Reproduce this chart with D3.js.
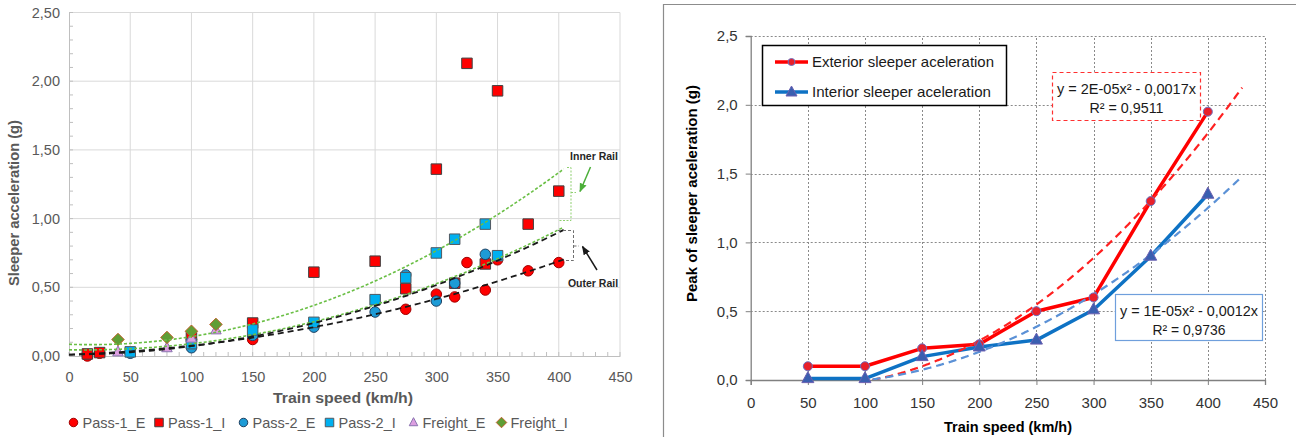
<!DOCTYPE html>
<html><head><meta charset="utf-8">
<script src="https://cdn.jsdelivr.net/npm/d3@7"></script>
<style>body{margin:0;background:#fff;} svg{display:block;}</style>
</head><body>
<svg id="c" width="1296" height="437"></svg>
<script>
// ---------------- LEFT CHART DATA ----------------
const pass1E_speed = [15, 25, 100, 150, 275, 300, 315, 325, 340, 350, 375, 400];
const pass1E_acc   = [0.00, 0.02, 0.12, 0.12, 0.34, 0.45, 0.43, 0.68, 0.48, 0.70, 0.62, 0.68];
const pass1I_speed = [15, 25, 100, 150, 200, 250, 275, 300, 315, 325, 340, 350, 375, 400];
const pass1I_acc   = [0.015, 0.025, 0.14, 0.24, 0.61, 0.69, 0.49, 1.36, 0.53, 2.13, 0.67, 1.93, 0.96, 1.20];
const pass2E_speed = [50, 100, 150, 200, 250, 275, 300, 315, 340];
const pass2E_acc   = [0.02, 0.06, 0.15, 0.21, 0.32, 0.59, 0.40, 0.53, 0.74];
const pass2I_speed = [50, 100, 150, 200, 250, 275, 300, 315, 340, 350];
const pass2I_acc   = [0.03, 0.09, 0.19, 0.245, 0.41, 0.57, 0.75, 0.85, 0.96, 0.73];
const freightE_speed = [40, 80, 100, 120];
const freightE_acc   = [0.03, 0.06, 0.13, 0.19];
const freightI_speed = [40, 80, 100, 120];
const freightI_acc   = [0.12, 0.135, 0.18, 0.23];
const leftSeriesNames = ["Pass-1_E", "Pass-1_I", "Pass-2_E", "Pass-2_I", "Freight_E", "Freight_I"];
// fitted polynomial trend lines (a, b, c) for y = a x^2 + b x + c
const trendInnerHigh = [8.54e-6, -0.000292, 0.085];
const trendInnerLow  = [5.81e-6, -0.0001375, 0.045];
const trendOuterHigh = [5.375e-6, 0.000075, 0.01];
const trendOuterLow  = [3.5e-6, 0.0003, 0.01];
const trendRangeLeft = [0, 405];
const xTicksL = [0, 50, 100, 150, 200, 250, 300, 350, 400, 450];
const yTicksL = [0, 0.5, 1.0, 1.5, 2.0, 2.5];
const yTickLabelsL = ["0,00", "0,50", "1,00", "1,50", "2,00", "2,50"];

// ---------------- RIGHT CHART DATA ----------------
const speedsR   = [50, 100, 150, 200, 250, 300, 350, 400];
const exterior  = [0.10, 0.10, 0.23, 0.26, 0.50, 0.60, 1.30, 1.95];
const interior  = [0.01, 0.01, 0.17, 0.24, 0.29, 0.51, 0.90, 1.35];
const rightSeriesNames = ["Exterior sleeper aceleration", "Interior sleeper aceleration"];
const fitExterior = [1.527e-5, -0.001624];
const fitInterior = [1.052e-5, -0.001082];
const trendRangeRight = [50, 430];
const eqExterior = ["y = 2E-05x² - 0,0017x", "R² = 0,9511"];
const eqInterior = ["y = 1E-05x² - 0,0012x", "R² = 0,9736"];
const xTicksR = [0, 50, 100, 150, 200, 250, 300, 350, 400, 450];
const yTicksR = [0, 0.5, 1.0, 1.5, 2.0, 2.5];
const yTickLabelsR = ["0,0", "0,5", "1,0", "1,5", "2,0", "2,5"];

const svg = d3.select("#c");
const FONT = "'Liberation Sans', Arial, sans-serif";

// ================= LEFT CHART =================
const xL = d3.scaleLinear().domain([0, 450]).range([69, 620]);
const yL = d3.scaleLinear().domain([0, 2.5]).range([356, 12.5]);
const gL = svg.append("g");

gL.append("g").selectAll("line").data(yTicksL.filter(d => d > 0)).join("line")
  .attr("x1", xL(0)).attr("x2", xL(450)).attr("y1", d => yL(d)).attr("y2", d => yL(d))
  .attr("stroke", "#d9d9d9").attr("stroke-width", 1);
gL.append("g").selectAll("line").data(xTicksL.filter(d => d > 0)).join("line")
  .attr("x1", d => xL(d)).attr("x2", d => xL(d)).attr("y1", yL(0)).attr("y2", yL(2.5))
  .attr("stroke", "#d9d9d9").attr("stroke-width", 1);
gL.append("g").selectAll("line").data(d3.range(0, 2.51, 0.1)).join("line")
  .attr("x1", xL(0)).attr("x2", xL(0) + 4).attr("y1", d => yL(d)).attr("y2", d => yL(d))
  .attr("stroke", "#bfbfbf");
gL.append("g").selectAll("line").data(d3.range(0, 451, 10)).join("line")
  .attr("x1", d => xL(d)).attr("x2", d => xL(d)).attr("y1", yL(0)).attr("y2", yL(0) - 4)
  .attr("stroke", "#bfbfbf");
const axLy = d3.axisLeft(yL).tickValues(yTicksL).tickFormat((d, i) => yTickLabelsL[i]).tickSize(0).tickPadding(9);
const axLx = d3.axisBottom(xL).tickValues(xTicksL).tickFormat(d3.format("d")).tickSize(0).tickPadding(16);
const gaLy = gL.append("g").attr("transform", `translate(${xL(0)},0)`).call(axLy);
const gaLx = gL.append("g").attr("transform", `translate(0,${yL(0)})`).call(axLx);
[gaLy, gaLx].forEach(g => {
  g.select(".domain").attr("stroke", "#bfbfbf");
  g.selectAll("text").attr("font-family", FONT).attr("font-size", 14.5).attr("fill", "#595959");
});

function markerPath(type, s) {
  if (type === "circle") return d3.symbol(d3.symbolCircle, Math.PI * s * s / 4)();
  if (type === "square") return `M${-s/2},${-s/2}h${s}v${s}h${-s}Z`;
  if (type === "triangle") { const h = s * 0.95; return `M0,${-h*0.6}L${s/2},${h*0.4}L${-s/2},${h*0.4}Z`; }
  if (type === "diamond") { const r = s / 2 + 1; return `M0,${-r}L${r},0L0,${r}L${-r},0Z`; }
}
const leftStyles = [
  {type: "circle", fill: "#ff0000", stroke: "#a00000"},
  {type: "square", fill: "#ff0000", stroke: "#404040"},
  {type: "circle", fill: "#1d9bd6", stroke: "#1f4060"},
  {type: "square", fill: "#00b0f0", stroke: "#505860"},
  {type: "triangle", fill: "#dc9ee0", stroke: "#8a74b0"},
  {type: "diamond", fill: "#5f9e35", stroke: "#c0602a"}
];
const leftData = [
  [pass1E_speed, pass1E_acc], [pass1I_speed, pass1I_acc], [pass2E_speed, pass2E_acc],
  [pass2I_speed, pass2I_acc], [freightE_speed, freightE_acc], [freightI_speed, freightI_acc]
];
leftData.forEach(([xs, ys], k) => {
  const st = leftStyles[k];
  gL.append("g").selectAll("path").data(xs.map((x, i) => [x, ys[i]])).join("path")
    .attr("d", markerPath(st.type, 10.5))
    .attr("transform", d => `translate(${xL(d[0])},${yL(d[1])})`)
    .attr("fill", st.fill).attr("stroke", st.stroke).attr("stroke-width", 1);
});

function polyPts(c, r, step) {
  return d3.range(r[0], r[1] + 0.001, step).map(x => [x, c[0]*x*x + c[1]*x + (c[2] || 0)]);
}
const lineL = d3.line().x(d => xL(d[0])).y(d => yL(d[1]));
[[trendInnerHigh, "#6abf45", "3,2", 1.6], [trendInnerLow, "#6abf45", "3,2", 1.6],
 [trendOuterHigh, "#1a1a1a", "6,4", 1.8], [trendOuterLow, "#1a1a1a", "6,4", 1.8]].forEach(([c, col, dash, w]) => {
  gL.append("path").datum(polyPts(c, trendRangeLeft, 2)).attr("d", lineL)
    .attr("fill", "none").attr("stroke", col).attr("stroke-dasharray", dash).attr("stroke-width", w);
});

const brk = gL.append("g");
brk.append("path").attr("d", "M567,167.5H571V220.5H558M571,192.5H576")
  .attr("fill", "none").attr("stroke", "#8fcf70").attr("stroke-width", 1).attr("stroke-dasharray", "2,1.5");
brk.append("path").attr("d", "M558,230.5H573.5V260.5H565M573.5,246H579")
  .attr("fill", "none").attr("stroke", "#707070").attr("stroke-width", 1).attr("stroke-dasharray", "3,2");
svg.append("defs").html(`
  <marker id="ahG" viewBox="0 0 10 10" refX="9" refY="5" markerWidth="6" markerHeight="6" orient="auto"><path d="M0,1L10,5L0,9Z" fill="#4caf3a"/></marker>
  <marker id="ahK" viewBox="0 0 10 10" refX="9" refY="5" markerWidth="6" markerHeight="6" orient="auto"><path d="M0,1L10,5L0,9Z" fill="#1a1a1a"/></marker>
  <clipPath id="clipR"><rect x="750" y="36" width="515" height="344"/></clipPath>`);
brk.append("line").attr("x1", 590.5).attr("y1", 167).attr("x2", 580).attr("y2", 191.5)
  .attr("stroke", "#4caf3a").attr("stroke-width", 1.5).attr("marker-end", "url(#ahG)");
brk.append("line").attr("x1", 597).attr("y1", 270).attr("x2", 582.5).attr("y2", 246.5)
  .attr("stroke", "#1a1a1a").attr("stroke-width", 1.5).attr("marker-end", "url(#ahK)");
brk.append("text").attr("x", 594).attr("y", 160).attr("text-anchor", "middle")
  .attr("font-family", FONT).attr("font-size", 10.5).attr("font-weight", "bold").attr("fill", "#262626").text("Inner Rail");
brk.append("text").attr("x", 593).attr("y", 286.5).attr("text-anchor", "middle")
  .attr("font-family", FONT).attr("font-size", 10.5).attr("font-weight", "bold").attr("fill", "#262626").text("Outer Rail");

gL.append("text").attr("transform", "translate(19,203) rotate(-90)").attr("text-anchor", "middle")
  .attr("font-family", FONT).attr("font-size", 14).attr("font-weight", "bold").attr("fill", "#595959")
  .attr("textLength", 166).attr("lengthAdjust", "spacingAndGlyphs")
  .text("Sleeper acceleration (g)");
gL.append("text").attr("x", 343).attr("y", 403).attr("text-anchor", "middle")
  .attr("font-family", FONT).attr("font-size", 14.5).attr("font-weight", "bold").attr("fill", "#595959")
  .attr("textLength", 140).attr("lengthAdjust", "spacingAndGlyphs")
  .text("Train speed (km/h)");

const legX = [73.5, 159, 243.5, 329.5, 413.5, 501.5];
leftSeriesNames.forEach((name, k) => {
  const st = leftStyles[k];
  const g = gL.append("g").attr("transform", `translate(${legX[k]},422.5)`);
  g.append("path").attr("d", markerPath(st.type, 8.5)).attr("fill", st.fill).attr("stroke", st.stroke);
  g.append("text").attr("x", 9).attr("y", 5).attr("font-family", FONT).attr("font-size", 14.5)
    .attr("fill", "#595959").text(name);
});

// ================= RIGHT CHART =================
svg.append("path").attr("d", "M663.5,437V4.5H1296").attr("fill", "none").attr("stroke", "#8c8c8c").attr("stroke-width", 1.2);
const xR = d3.scaleLinear().domain([0, 450]).range([750.7, 1265]);
const yR = d3.scaleLinear().domain([0, 2.5]).range([380, 36]);
const gR = svg.append("g");
gR.append("g").selectAll("line").data(yTicksR.filter(d => d > 0)).join("line")
  .attr("x1", xR(0)).attr("x2", xR(450)).attr("y1", d => Math.round(yR(d)) + 0.5).attr("y2", d => Math.round(yR(d)) + 0.5)
  .attr("stroke", "#8a8a8a").attr("stroke-dasharray", "2,2");
gR.append("g").selectAll("line").data(xTicksR.filter(d => d > 0)).join("line")
  .attr("x1", d => Math.round(xR(d)) + 0.5).attr("x2", d => Math.round(xR(d)) + 0.5).attr("y1", yR(0)).attr("y2", yR(2.5))
  .attr("stroke", "#8a8a8a").attr("stroke-dasharray", "2,2");
const axRy = d3.axisLeft(yR).tickValues(yTicksR).tickFormat((d, i) => yTickLabelsR[i]).tickSize(5).tickPadding(8);
const axRx = d3.axisBottom(xR).tickValues(xTicksR).tickFormat(d3.format("d")).tickSize(5).tickPadding(12);
const gaRy = gR.append("g").attr("transform", `translate(${xR(0)},0)`).call(axRy);
const gaRx = gR.append("g").attr("transform", `translate(0,${yR(0)})`).call(axRx);
[gaRy, gaRx].forEach(g => {
  g.select(".domain").attr("stroke", "#808080").attr("stroke-width", 1.3);
  g.selectAll(".tick line").attr("stroke", "#808080");
  g.selectAll("text").attr("font-family", FONT).attr("font-size", 15).attr("fill", "#333");
});

const lineR = d3.line().x(d => xR(d[0])).y(d => yR(d[1]));
const colR = ["#ff0000", "#0e72c4"];
const markFill = ["#e8202a", "#3a5fb0"];
[exterior, interior].forEach((vals, k) => {
  gR.append("path").datum(speedsR.map((s, i) => [s, vals[i]])).attr("d", lineR)
    .attr("fill", "none").attr("stroke", colR[k]).attr("stroke-width", 3.5).attr("stroke-linejoin", "round");
});
[[fitExterior, "#ff2020"], [fitInterior, "#5b91d6"]].forEach(([c, col]) => {
  gR.append("path").datum(polyPts(c, trendRangeRight, 1)).attr("d", lineR).attr("clip-path", "url(#clipR)")
    .attr("fill", "none").attr("stroke", col).attr("stroke-width", 2.2).attr("stroke-dasharray", "8,5");
});
gR.append("g").selectAll("circle").data(speedsR.map((s, i) => [s, exterior[i]])).join("circle")
  .attr("cx", d => xR(d[0])).attr("cy", d => yR(d[1])).attr("r", 4.5)
  .attr("fill", markFill[0]).attr("stroke", "#6a70c0").attr("stroke-width", 1);
gR.append("g").selectAll("path").data(speedsR.map((s, i) => [s, interior[i]])).join("path")
  .attr("d", "M0,-7L6,4L-6,4Z").attr("transform", d => `translate(${xR(d[0])},${yR(d[1])})`)
  .attr("fill", markFill[1]).attr("stroke", "#6a5fb0").attr("stroke-width", 1);

const lg = gR.append("g");
lg.append("rect").attr("x", 762.5).attr("y", 45.5).attr("width", 244).attr("height", 60)
  .attr("fill", "#fff").attr("stroke", "#000").attr("stroke-width", 1.5);
rightSeriesNames.forEach((name, k) => {
  const yy = k === 0 ? 62 : 92;
  lg.append("line").attr("x1", 775).attr("x2", 808).attr("y1", yy).attr("y2", yy)
    .attr("stroke", colR[k]).attr("stroke-width", 3.5);
  if (k === 0) lg.append("circle").attr("cx", 791.5).attr("cy", yy).attr("r", 3.5).attr("fill", markFill[0]).attr("stroke", "#6a70c0");
  else lg.append("path").attr("d", "M0,-6L5.5,4L-5.5,4Z").attr("transform", `translate(791.5,${yy})`).attr("fill", markFill[1]).attr("stroke", "#6a5fb0");
  lg.append("text").attr("x", 812).attr("y", yy + 5).attr("font-family", FONT).attr("font-size", 14.5)
    .attr("textLength", k === 0 ? 182 : 179).attr("lengthAdjust", "spacingAndGlyphs")
    .attr("fill", "#1a1a1a").text(name);
});

function eqBox(x, y, w, h, lines, lens, stroke, dash) {
  const g = gR.append("g");
  g.append("rect").attr("x", x).attr("y", y).attr("width", w).attr("height", h)
    .attr("fill", "#fff").attr("stroke", stroke).attr("stroke-width", 1.2).attr("stroke-dasharray", dash);
  lines.forEach((t, i) => {
    g.append("text").attr("x", x + w / 2).attr("y", y + 21 + i * 19.5).attr("text-anchor", "middle")
      .attr("font-family", FONT).attr("font-size", 14.5).attr("fill", "#1a1a1a")
      .attr("textLength", lens[i]).attr("lengthAdjust", "spacingAndGlyphs").text(t);
  });
}
eqBox(1052.5, 72.5, 148, 48, eqExterior, [139, 74], "#ff3030", "4,3");
eqBox(1115.5, 294.5, 147, 46, eqInterior, [138, 73], "#6f9fdc", null);

gR.append("text").attr("transform", "translate(697,193.5) rotate(-90)").attr("text-anchor", "middle")
  .attr("font-family", FONT).attr("font-size", 14).attr("font-weight", "bold").attr("fill", "#000")
  .attr("textLength", 217).attr("lengthAdjust", "spacingAndGlyphs")
  .text("Peak of sleeper aceleration (g)");
gR.append("text").attr("x", 1008).attr("y", 432).attr("text-anchor", "middle")
  .attr("font-family", FONT).attr("font-size", 14.5).attr("font-weight", "bold").attr("fill", "#000")
  .attr("textLength", 128).attr("lengthAdjust", "spacingAndGlyphs")
  .text("Train speed (km/h)");
</script>
</body></html>
